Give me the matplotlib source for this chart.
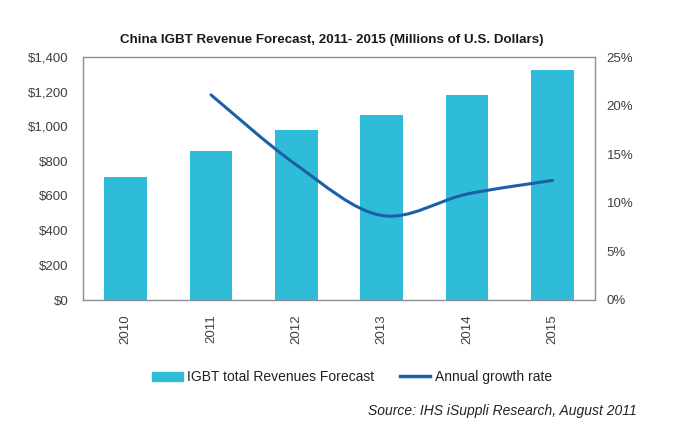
import numpy as np
import matplotlib
matplotlib.use("Agg")
import matplotlib.pyplot as plt
from matplotlib.path import Path
from matplotlib.patches import PathPatch, Patch
from matplotlib.lines import Line2D

plt.rcParams['font.family'] = ['Liberation Sans', 'DejaVu Sans']

years = ["2010", "2011", "2012", "2013", "2014", "2015"]
revenue = [710, 860, 980, 1065, 1180, 1325]
growth_years = [1, 2, 3, 4, 5]
growth = [21.1, 13.9, 8.7, 10.9, 12.3]

bar_color = "#2fbcd9"
line_color = "#1c5fa6"
frame_color = "#8e8e9e"
text_color = "#404040"


def smooth_path(xs, ys):
    # Excel style smoothed line: cubic bezier with catmull-rom control points
    pts = np.column_stack([xs, ys]).astype(float)
    n = len(pts)
    verts = [pts[0]]
    codes = [Path.MOVETO]
    for i in range(n - 1):
        p0 = pts[i - 1] if i > 0 else pts[i]
        p1 = pts[i]
        p2 = pts[i + 1]
        p3 = pts[i + 2] if i + 2 < n else pts[i + 1]
        c1 = p1 + (p2 - p0) / 6.0
        c2 = p2 - (p3 - p1) / 6.0
        verts += [c1, c2, p2]
        codes += [Path.CURVE4] * 3
    return Path(verts, codes)


fig = plt.figure(figsize=(6.82, 4.28), dpi=100)
ax = fig.add_axes([83 / 682, 1 - 300 / 428, 512 / 682, 243 / 428])

x = np.arange(len(years))
ax.bar(x, revenue, width=0.5, color=bar_color, zorder=2)
ax.set_xlim(-0.5, len(years) - 0.5)
ax.set_ylim(0, 1400)
ax.set_yticks(range(0, 1401, 200))
ax.set_yticklabels(["$0", "$200", "$400", "$600", "$800", "$1,000", "$1,200", "$1,400"])
ax.set_xticks(x)
ax.set_xticklabels(years, rotation=90)
ax.tick_params(axis='both', length=0, labelsize=9.5, colors=text_color)
ax.tick_params(axis='y', pad=10.5)
ax.tick_params(axis='x', pad=10)
for s in ax.spines.values():
    s.set_color(frame_color)
    s.set_linewidth(1.0)

ax2 = ax.twinx()
ax2.set_ylim(0, 25)
ax2.set_yticks(range(0, 26, 5))
ax2.set_yticklabels([f"{v}%" for v in range(0, 26, 5)])
ax2.tick_params(axis='y', length=0, labelsize=9.5, colors=text_color, pad=8.5)
for s in ax2.spines.values():
    s.set_visible(False)
ax2.add_patch(PathPatch(smooth_path(growth_years, growth), fill=False,
                        edgecolor=line_color, linewidth=2.2, capstyle='round', zorder=3))

fig.text(0.486, 1 - 40 / 428, "China IGBT Revenue Forecast, 2011- 2015 (Millions of U.S. Dollars)",
         ha='center', va='center', fontsize=9.6, fontweight='bold', color='#1a1a1a')

handles = [Patch(color=bar_color), Line2D([0], [0], color=line_color, lw=2.5)]
fig.legend(handles, ["IGBT total Revenues Forecast", "Annual growth rate"],
           loc='center left', bbox_to_anchor=(152 / 682, 1 - 377 / 428), ncol=2, frameon=False,
           fontsize=10, handlelength=2.2, handleheight=0.6, handletextpad=0.35,
           columnspacing=1.8, borderpad=0, borderaxespad=0, labelcolor='#222222')

fig.text(368 / 682, 1 - 411 / 428, "Source: IHS iSuppli Research, August 2011",
         ha='left', va='center', fontsize=10, style='italic', color='#222222')

fig.savefig("out.png", dpi=100)
